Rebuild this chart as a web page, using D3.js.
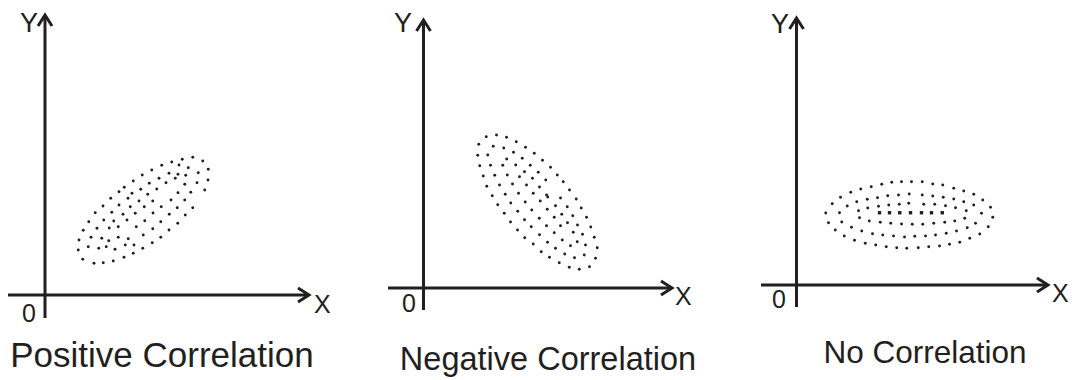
<!DOCTYPE html>
<html>
<head>
<meta charset="utf-8">
<script src="https://cdn.jsdelivr.net/npm/d3@7"></script>
<style>
  html, body { margin: 0; padding: 0; background: #fff; }
  svg { display: block; }
  text { font-family: "Liberation Sans", Arial, sans-serif; fill: #231f20; }
</style>
</head>
<body>
<svg id="chart" width="1072" height="380"></svg>
<script>
// Scatter samples, in axis units (0–100 on each axis)
const positivePoints = [
  [59.1,55.1],[54.9,54.3],[63.1,53.6],[50.7,53.2],[46.7,51.9],[53.6,52.0],[57.3,50.9],[65.3,50.3],
  [42.7,50.0],[49.6,48.7],[53.2,48.3],[61.3,48.9],[38.9,48.0],[45.6,46.7],[56.3,47.9],[52.1,46.7],
  [65.2,46.0],[35.3,45.6],[41.7,44.7],[48.4,44.9],[60.8,44.9],[55.9,44.3],[31.7,43.1],[38.3,42.3],
  [44.7,42.4],[63.9,42.0],[29.6,41.3],[34.8,40.7],[41.1,40.3],[53.2,40.9],[58.3,41.1],[26.3,38.7],
  [33.2,38.7],[37.6,37.6],[43.1,37.6],[50.4,38.0],[55.9,38.0],[23.2,35.6],[29.6,36.0],[34.1,35.3],
  [39.7,35.3],[46.5,35.3],[52.9,34.9],[59.1,34.9],[20.1,32.9],[26.7,33.1],[31.2,32.3],[36.1,32.7],
  [43.2,32.8],[49.7,32.3],[56.1,32.0],[17.5,29.3],[23.5,30.0],[27.5,29.6],[32.8,30.0],[39.9,29.7],
  [46.3,29.3],[53.1,28.7],[15.3,25.9],[20.8,26.7],[25.7,26.8],[29.3,27.3],[36.5,27.3],[43.1,26.5],
  [49.6,26.0],[13.6,22.0],[18.4,23.1],[22.7,22.7],[25.5,21.7],[29.3,23.1],[33.3,22.5],[39.3,24.0],
  [46.3,23.1],[13.3,18.0],[17.3,19.3],[21.5,18.7],[24.5,19.3],[28.0,18.3],[32.1,20.0],[35.6,20.0],
  [42.9,20.9],[15.1,14.3],[19.6,12.7],[23.3,12.9],[27.3,13.6],[31.6,15.1],[35.3,16.7],[39.1,18.7]
];

const negativePoints = [
  [25.1,60.5],[29.2,61.2],[33.2,60.3],[37.1,58.5],[22.1,57.5],[27.9,56.7],[32.1,56.0],[36.0,54.3],
  [40.8,56.3],[44.3,53.9],[21.7,53.1],[25.7,53.2],[33.3,51.6],[39.5,51.9],[22.5,48.9],[26.8,49.1],
  [31.7,49.1],[36.9,49.2],[42.7,49.1],[23.9,44.8],[28.5,45.1],[33.5,45.2],[38.4,44.5],[40.4,46.5],
  [43.6,43.9],[25.3,40.7],[30.4,41.2],[35.6,41.6],[41.2,41.2],[27.5,36.9],[32.7,37.5],[38.0,37.9],
  [43.9,37.9],[29.7,33.3],[34.9,34.0],[40.7,34.4],[32.3,29.9],[37.7,30.7],[43.3,31.2],[34.8,26.4],
  [40.4,27.3],[37.6,23.2],[43.1,24.5],[40.5,20.1],[43.9,17.6],
  [47.6,51.1],[50.8,48.3],[45.9,46.3],[53.5,45.2],[48.9,43.2],[55.9,42.5],[46.4,40.4],[58.4,39.2],
  [49.2,37.2],[49.7,36.4],[54.8,36.0],[61.1,35.6],[46.7,34.8],[52.8,32.9],[57.5,32.5],[63.1,32.0],
  [49.5,31.5],[55.3,29.5],[59.7,28.9],[65.2,28.3],[46.3,27.9],[52.3,28.3],[57.6,26.1],[61.6,25.2],
  [66.9,24.4],[49.2,24.9],[54.8,24.9],[59.9,22.3],[63.6,21.5],[68.3,20.3],[46.4,21.3],[52.3,22.1],
  [55.5,19.2],[61.5,18.5],[64.8,17.2],[69.5,16.1],[49.6,18.3],[58.8,16.9],[47.1,14.5],[52.8,15.9],
  [56.5,13.6],[64.3,13.2],[68.8,11.9],[50.4,12.3],[54.3,10.1],[60.4,12.1],[58.3,8.3],[62.3,7.5],
  [66.4,8.5]
];

const noCorrPoints = [
  // outer ring
  [42.0,41.3],[38.1,41.1],[34.1,40.3],[29.9,39.3],[25.7,38.4],[21.7,37.1],[17.6,35.1],[14.3,32.5],
  [11.7,28.8],[12.8,24.9],[15.5,22.0],[19.1,19.6],[23.2,17.9],[27.5,16.7],[31.7,16.0],[35.9,15.3],
  [40.1,14.9],[44.1,14.7],[46.0,41.3],[50.3,41.3],[54.5,40.4],[58.5,40.0],[62.9,38.7],[66.9,37.6],
  [70.9,36.3],[74.5,34.0],[77.6,31.1],[78.5,27.1],[76.7,23.3],[73.3,20.4],[69.3,18.7],[65.3,17.1],
  [61.2,16.3],[57.2,15.6],[52.9,15.3],[48.7,14.9],
  // middle ring
  [45.1,36.4],[40.8,36.0],[36.5,35.7],[32.4,34.9],[28.3,34.3],[24.1,33.3],[20.3,31.6],[17.2,28.9],
  [18.1,25.2],[22.0,23.1],[26.1,21.6],[30.4,20.5],[34.5,20.0],[38.8,19.6],[43.2,19.2],[50.3,36.0],
  [54.5,35.6],[58.7,35.1],[62.9,34.4],[66.9,33.3],[70.9,32.0],[74.0,28.7],[71.6,24.7],[68.3,22.9],
  [64.0,21.6],[59.9,20.7],[55.6,20.0],[51.6,19.6],[47.3,19.5],
  // inner ring
  [44.9,32.7],[41.1,32.3],[36.9,32.0],[32.8,31.5],[28.5,30.8],[24.8,29.7],[25.2,26.9],[29.1,25.6],
  [33.5,25.1],[37.7,24.7],[42.0,24.4],[50.9,32.3],[55.3,32.3],[59.6,31.7],[63.6,30.9],[67.9,29.7],
  [67.3,26.7],[63.3,25.6],[59.3,25.1],[54.9,24.7],[50.5,24.3],[46.3,24.3]
];

const noCorrCore = [
  [33.2,28.9],[37.2,28.9],[41.3,28.9],[45.6,28.9],[50.0,28.9],[54.0,28.9],[58.3,28.9]
];

const titles = ["Positive Correlation", "Negative Correlation", "No Correlation"];
const axisLabels = { x: "X", y: "Y", origin: "0" };

// Panel layout (pixels)
const panels = [
  { points: positivePoints, core: [], title: titles[0], titleSize: 35,
    ox: 45, oy: 295, xLeft: 8, xTip: 309, yTop: 15, yBottom: 318,
    yLab: [20, 32], xLab: [314, 313], zeroLab: [22, 322], titlePos: [162, 367] },
  { points: negativePoints, core: [], title: titles[1], titleSize: 32.5,
    ox: 423.5, oy: 288, xLeft: 388, xTip: 672, yTop: 20, yBottom: 310,
    yLab: [394, 32], xLab: [675, 305], zeroLab: [402, 312], titlePos: [548, 370] },
  { points: noCorrPoints, core: noCorrCore, title: titles[2], titleSize: 31.5,
    ox: 796.5, oy: 285, xLeft: 761, xTip: 1048, yTop: 18, yBottom: 307,
    yLab: [771, 33], xLab: [1052, 302], zeroLab: [772, 308], titlePos: [925, 363] }
];

const ink = "#231f20";
const svg = d3.select("#chart");

panels.forEach(p => {
  const x = d3.scaleLinear().domain([0, 100]).range([p.ox, p.ox + 250]);
  const y = d3.scaleLinear().domain([0, 100]).range([p.oy, p.oy - 250]);
  const g = svg.append("g");

  // axes
  g.append("line").attr("x1", p.xLeft).attr("x2", p.xTip - 1)
    .attr("y1", p.oy).attr("y2", p.oy)
    .attr("stroke", ink).attr("stroke-width", 3);
  g.append("line").attr("x1", p.ox).attr("x2", p.ox)
    .attr("y1", p.yBottom).attr("y2", p.yTop + 1)
    .attr("stroke", ink).attr("stroke-width", 3);

  // open arrowheads
  const line = d3.line();
  g.append("path")
    .attr("d", line([[p.xTip - 11, p.oy - 7], [p.xTip, p.oy], [p.xTip - 11, p.oy + 7]]))
    .attr("fill", "none").attr("stroke", ink).attr("stroke-width", 3)
    .attr("stroke-linejoin", "miter");
  g.append("path")
    .attr("d", line([[p.ox - 7, p.yTop + 11], [p.ox, p.yTop], [p.ox + 7, p.yTop + 11]]))
    .attr("fill", "none").attr("stroke", ink).attr("stroke-width", 3)
    .attr("stroke-linejoin", "miter");

  // scatter dots
  g.selectAll("circle.pt").data(p.points).join("circle")
    .attr("class", "pt")
    .attr("cx", d => x(d[0])).attr("cy", d => y(d[1]))
    .attr("r", 1.45).attr("fill", ink);

  g.selectAll("rect.core").data(p.core).join("rect")
    .attr("class", "core")
    .attr("x", d => x(d[0]) - 1.7).attr("y", d => y(d[1]) - 1.7)
    .attr("width", 3.4).attr("height", 3.4).attr("fill", ink);

  // labels
  g.append("text").attr("x", p.yLab[0]).attr("y", p.yLab[1])
    .attr("font-size", 27).text(axisLabels.y);
  g.append("text").attr("x", p.xLab[0]).attr("y", p.xLab[1])
    .attr("font-size", 25).text(axisLabels.x);
  g.append("text").attr("x", p.zeroLab[0]).attr("y", p.zeroLab[1])
    .attr("font-size", 25).text(axisLabels.origin);
  g.append("text").attr("x", p.titlePos[0]).attr("y", p.titlePos[1])
    .attr("text-anchor", "middle").attr("font-size", p.titleSize).text(p.title);
});
</script>
</body>
</html>
